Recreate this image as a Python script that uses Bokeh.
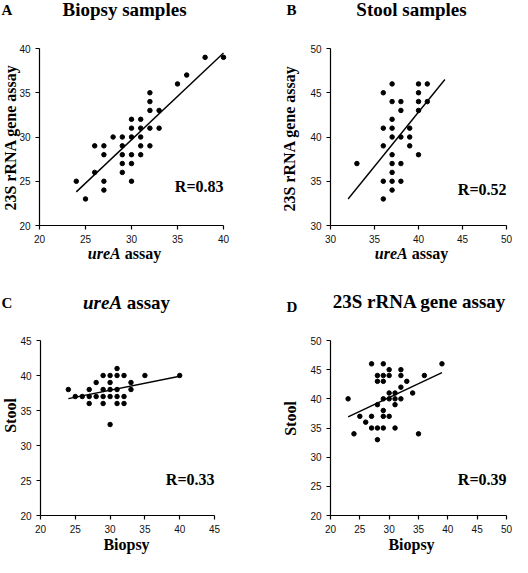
import math
from bokeh.plotting import figure
from bokeh.models import Label, Range1d, FixedTicker
from bokeh.layouts import column, row
from bokeh.embed import file_html
from bokeh.resources import INLINE

# ---------------- data ----------------
# Panel A: Biopsy samples (x: ureA assay, y: 23S rRNA gene assay)
a_x = [24, 25, 26, 26, 27, 27, 27, 27, 28, 29, 29, 29, 29, 29, 30, 30, 30, 30, 30, 30,
       31, 31, 31, 31, 31, 32, 32, 32, 32, 32, 33, 33, 35, 36, 38, 40]
a_y = [25, 23, 29, 26, 29, 28, 25, 24, 30, 30, 29, 28, 27, 26, 32, 31, 30, 28, 27, 25,
       32, 31, 30, 29, 28, 35, 34, 33, 31, 29, 33, 31, 36, 37, 39, 39]
a_fit_x = [24, 40]
a_fit_y = [23.8, 39.5]
a_r = "R=0.83"

# Panel B: Stool samples
b_x = [33, 36, 36, 36, 36, 36, 37, 37, 37, 37, 37, 37, 37, 37, 37, 37,
       38, 38, 38, 38, 38, 39, 39, 39, 40, 40, 40, 40, 40, 41, 41]
b_y = [37, 45, 41, 39, 35, 33, 46, 44, 42, 41, 40, 38, 37, 36, 35, 34,
       44, 43, 40, 37, 35, 41, 40, 39, 46, 45, 44, 43, 38, 46, 44]
b_fit_x = [32, 43]
b_fit_y = [33.0, 46.5]
b_r = "R=0.52"

# Panel C: ureA assay (x: biopsy, y: stool)
c_x = [24, 25, 26, 27, 27, 27, 28, 28, 29, 29, 29, 29, 30, 30, 30, 30, 30,
       31, 31, 31, 31, 31, 32, 32, 32, 33, 33, 35, 40]
c_y = [38, 37, 37, 38, 37, 36, 39, 37, 40, 38, 37, 36, 40, 39, 38, 37, 33,
       41, 40, 38, 37, 36, 40, 37, 36, 39, 38, 40, 40]
c_fit_x = [24, 40]
c_fit_y = [36.7, 39.9]
c_r = "R=0.33"

# Panel D: 23S rRNA gene assay (x: biopsy, y: stool)
d_x = [23, 24, 25, 26, 27, 27, 27, 28, 28, 28, 28, 28, 29, 29, 29, 29, 29, 29, 29,
       30, 30, 30, 30, 30, 31, 31, 31, 31, 32, 32, 32, 32, 33, 34, 35, 36, 39]
d_y = [40, 34, 37, 36, 46, 37, 35, 44, 43, 39, 35, 33, 46, 44, 43, 40, 38, 37, 35,
       45, 44, 41, 40, 37, 41, 40, 39, 35, 45, 44, 42, 40, 43, 41, 34, 44, 46]
d_fit_x = [23, 39]
d_fit_y = [36.9, 44.5]
d_r = "R=0.39"

a_xticks = [20, 25, 30, 35, 40]
a_yticks = [20, 25, 30, 35, 40]
b_xticks = [30, 35, 40, 45, 50]
b_yticks = [30, 35, 40, 45, 50]
c_xticks = [20, 25, 30, 35, 40, 45]
c_yticks = [20, 25, 30, 35, 40, 45]
d_xticks = [20, 25, 30, 35, 40, 45, 50]
d_yticks = [20, 25, 30, 35, 40, 45, 50]

SERIF = "Liberation Serif"
SANS = "Liberation Sans"


def make_panel(xs, ys, fx, fy, xticks, yticks, W, H, box):
    """box = (left, right, top, bottom): pixel box of the axes inside a WxH canvas.
    The frame fills the whole canvas; axes sit at fixed data locations."""
    left, right, top, bottom = box
    x0, x1 = xticks[0], xticks[-1]
    y0, y1 = yticks[0], yticks[-1]
    kx = (x1 - x0) / (right - left)
    ky = (y1 - y0) / (bottom - top)
    p = figure(width=W, height=H,
               x_range=Range1d(x0 - left * kx, x1 + (W - right) * kx),
               y_range=Range1d(y0 - (H - bottom) * ky, y1 + top * ky),
               output_backend="svg", toolbar_location=None)
    p.min_border = 0
    p.min_border_left = 0
    p.min_border_right = 0
    p.min_border_top = 0
    p.min_border_bottom = 0
    p.title.visible = False
    p.outline_line_color = None
    p.xgrid.visible = False
    p.ygrid.visible = False
    p.background_fill_color = "white"
    p.border_fill_color = "white"
    p.xaxis.ticker = FixedTicker(ticks=xticks)
    p.yaxis.ticker = FixedTicker(ticks=yticks)
    p.xaxis.fixed_location = y0
    p.yaxis.fixed_location = x0
    p.xaxis.bounds = (x0, x1)
    p.yaxis.bounds = (y0, y1)
    for ax in (p.xaxis[0], p.yaxis[0]):
        ax.axis_line_color = "black"
        ax.axis_line_width = 1.2
        ax.major_tick_line_color = "black"
        ax.major_tick_line_width = 1.2
        ax.major_tick_out = 4
        ax.major_tick_in = 0
        ax.minor_tick_out = 0
        ax.minor_tick_in = 0
        ax.major_label_text_font = SANS
        ax.major_label_text_font_size = "10px"
        ax.major_label_text_color = "#111111"
        ax.major_label_standoff = 5
    p.scatter(xs, ys, size=4.5, color="black")
    p.line(fx, fy, line_width=1.4, color="black")
    p._H = H
    return p


def put(p, cx, cy, text, size, style="bold", align="left", rotated=False, font=SERIF):
    # cx, cy: wanted text baseline (or, for rotated text, its centre line) on this
    # panel's canvas, measured from its top-left corner
    if rotated:
        x, y = cx - 4, p._H - cy
        lab = Label(x=x, y=y, angle=math.pi / 2, text_baseline="middle")
    else:
        x, y = cx, p._H - (cy - 0.42 * size)
        lab = Label(x=x, y=y, text_baseline="alphabetic")
    lab.x_units = "screen"
    lab.y_units = "screen"
    lab.text = text
    lab.text_font = font
    lab.text_font_size = f"{size}px"
    lab.text_font_style = style
    lab.text_align = "center" if rotated else align
    lab.text_color = "black"
    p.add_layout(lab)


def put_urea(p, cx, cy, size):
    put(p, cx - 0.234 * size, cy, "ureA", size, style="bold italic", align="right")
    put(p, cx + 0.016 * size, cy, "assay", size, style="bold", align="left")


# Panel A (canvas 256 x 286)
pA = make_panel(a_x, a_y, a_fit_x, a_fit_y, a_xticks, a_yticks, 256, 286, (39, 223, 48, 225))
put(pA, 1, 16, "A", 15)
put(pA, 124, 17, "Biopsy samples", 19, align="center")
put(pA, 14, 137, "23S rRNA gene assay", 16, rotated=True)
put_urea(pA, 124, 260, 16)
put(pA, 223, 193, a_r, 16, align="right")

# Panel B (canvas 256 x 286)
pB = make_panel(b_x, b_y, b_fit_x, b_fit_y, b_xticks, b_yticks, 256, 286, (74, 250, 48, 225))
put(pB, 30, 16, "B", 15)
put(pB, 155, 17, "Stool samples", 19, align="center")
put(pB, 37, 138, "23S rRNA gene assay", 16, rotated=True)
put_urea(pB, 155, 260, 16)
put(pB, 250, 196, b_r, 16, align="right")

# Panel C (canvas 256 x 271)
pC = make_panel(c_x, c_y, c_fit_x, c_fit_y, c_xticks, c_yticks, 256, 271, (40, 214, 54, 229))
put(pC, 1, 23, "C", 15)
put_urea(pC, 126, 24, 19)
put(pC, 14, 129, "Stool", 16, rotated=True)
put(pC, 126, 265, "Biopsy", 16, align="center")
put(pC, 214, 200, c_r, 16, align="right")

# Panel D (canvas 256 x 271)
pD = make_panel(d_x, d_y, d_fit_x, d_fit_y, d_xticks, d_yticks, 256, 271, (74, 250, 54, 229))
put(pD, 30, 27, "D", 15)
put(pD, 163, 23, "23S rRNA gene assay", 19, align="center")
put(pD, 38, 132, "Stool", 16, rotated=True)
put(pD, 155, 265, "Biopsy", 16, align="center")
put(pD, 250, 200, d_r, 16, align="right")

layout = column(row(pA, pB), row(pC, pD))
open("out.html", "w").write(file_html(layout, INLINE))
